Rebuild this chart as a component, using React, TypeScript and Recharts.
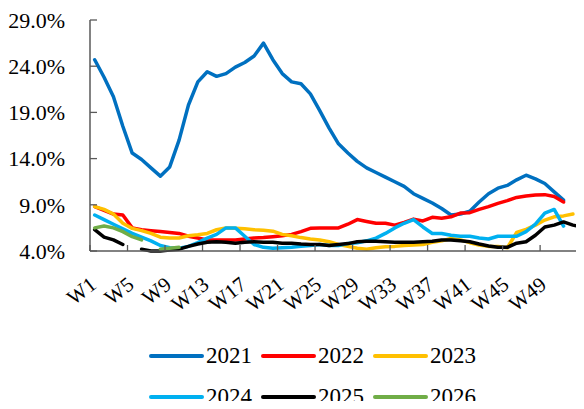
import React from "react";
import { LineChart, Line, XAxis, YAxis, Legend } from "recharts";

// weekly values (%), W1..W53; null = no data
const weeks = Array.from({ length: 53 }, (_, i) => i + 1);

const s2021 = [24.7, 22.8, 20.7, 17.5, 14.6, 13.9, 13.0, 12.1, 13.1, 16.0, 19.8, 22.3, 23.4, 22.9, 23.2, 23.9, 24.4, 25.1, 26.5, 24.7, 23.2, 22.3, 22.1, 21.0, 19.2, 17.3, 15.6, 14.6, 13.7, 13.0, 12.5, 12.0, 11.5, 11.0, 10.2, 9.7, 9.2, 8.6, 7.9, 8.0, 8.3, 9.3, 10.2, 10.8, 11.1, 11.7, 12.2, 11.8, 11.3, 10.4, 9.5];
const s2022 = [8.8, 8.4, 8.0, 7.9, 6.5, 6.3, 6.2, 6.1, 6.0, 5.9, 5.6, 5.4, 5.2, 5.2, 5.2, 5.2, 5.3, 5.4, 5.45, 5.55, 5.65, 5.8, 6.1, 6.45, 6.5, 6.5, 6.5, 6.9, 7.4, 7.2, 7.0, 7.0, 6.8, 7.1, 7.45, 7.25, 7.65, 7.55, 7.7, 8.1, 8.15, 8.5, 8.8, 9.15, 9.45, 9.8, 9.95, 10.05, 10.1, 9.9, 9.3];
const s2023 = [8.8, 8.5, 8.0, 7.0, 6.45, 6.2, 5.9, 5.5, 5.4, 5.4, 5.65, 5.75, 5.9, 6.3, 6.5, 6.45, 6.4, 6.3, 6.25, 6.15, 5.8, 5.65, 5.45, 5.3, 5.2, 5.0, 4.7, 4.5, 4.3, 4.2, 4.35, 4.45, 4.5, 4.6, 4.65, 4.7, 4.95, 5.1, 5.35, 5.2, 4.9, 4.65, 4.5, 4.5, 4.35, 6.0, 6.35, 6.8, 7.35, 7.7, 7.8, 8.0];
const s2024 = [7.9, 7.4, 6.9, 6.4, 5.9, 5.5, 5.1, 4.6, 4.35, 4.3, 4.5, 4.9, 5.4, 5.8, 6.5, 6.5, 5.6, 4.7, 4.4, 4.3, 4.35, 4.4, 4.5, 4.6, 4.7, 4.6, 4.6, 4.8, 4.9, 5.1, 5.4, 5.9, 6.5, 7.0, 7.4, 6.6, 5.9, 5.9, 5.7, 5.6, 5.6, 5.4, 5.3, 5.6, 5.6, 5.6, 6.1, 6.9, 8.1, 8.5, 6.7];
const s2025 = [6.3, 5.5, 5.2, 4.7, null, 4.2, 4.0, 4.0, 4.1, 4.2, 4.5, 4.75, 4.95, 5.0, 4.95, 4.85, 4.95, 5.0, 4.95, 4.95, 4.85, 4.85, 4.75, 4.7, 4.7, 4.6, 4.7, 4.8, 5.0, 5.05, 5.05, 5.0, 4.95, 4.95, 4.95, 5.0, 5.05, 5.2, 5.2, 5.1, 5.0, 4.75, 4.55, 4.4, 4.4, 4.85, 5.0, 5.7, 6.6, 6.8, 7.15, 6.8, 6.6];
const s2026 = [6.5, 6.7, 6.5, 6.1, 5.55, 5.2, null, 4.2, 4.3, 4.4];

const series = [
  { key: "2021", values: s2021, color: "#0070C0" },
  { key: "2022", values: s2022, color: "#FF0000" },
  { key: "2023", values: s2023, color: "#FFC000" },
  { key: "2024", values: s2024, color: "#00B0F0" },
  { key: "2025", values: s2025, color: "#000000" },
  { key: "2026", values: s2026, color: "#70AD47" },
];

const yTicks = [4, 9, 14, 19, 24, 29];
// tick marks sit between categories, labels every 4 weeks
const xTickMarks = Array.from({ length: 14 }, (_, i) => i * 4 + 0.5);
const lastLabelWeek = 49;

const data = weeks.map((w, i) => {
  const row: Record<string, number | null> = { week: w };
  series.forEach((s) => {
    const v = s.values[i];
    row[s.key] = v === undefined ? null : v;
  });
  return row;
});

const FONT = '"Liberation Serif", "Times New Roman", serif';
const AXIS = "#595959";

const W = 600;
const H = 409;
const M = { top: 20, right: 13, left: 0, bottom: 0 };
const Y_W = 90;
const HALF = (W - M.left - M.right - Y_W) / weeks.length / 2;

const XTick = (props: any) => {
  const { x, y, payload } = props;
  const wk = payload.value + 0.5;
  return (
    <g>
      <line x1={x} y1={y} x2={x} y2={y - 6} stroke={AXIS} strokeWidth={1.3} />
      {wk <= lastLabelWeek && (
        <text
          transform={`translate(${x + HALF + 3},${y + 36}) rotate(-38)`}
          textAnchor="end"
          fontFamily={FONT}
          fontSize={21}
          fill="#000"
        >
          {"W" + wk}
        </text>
      )}
    </g>
  );
};

const YTick = (props: any) => {
  const { x, y, payload } = props;
  return (
    <g>
      <line x1={x} y1={y} x2={x + 7} y2={y} stroke={AXIS} strokeWidth={1.3} />
      <text x={x - 25} y={y} dy="0.35em" textAnchor="end" fontFamily={FONT} fontSize={22} fill="#000">
        {payload.value.toFixed(1) + "%"}
      </text>
    </g>
  );
};

const LegendBox = () => (
  <div
    style={{
      height: 88,
      paddingLeft: 149,
      paddingTop: 14,
      display: "grid",
      gridTemplateColumns: "112px 112px 112px",
      gridAutoRows: "41px",
      boxSizing: "border-box",
      fontFamily: FONT,
      fontSize: 23,
    }}
  >
    {series.map((s) => (
      <div key={s.key} style={{ display: "flex", alignItems: "center" }}>
        <svg width={57} height={8}>
          <line x1={2} y1={4} x2={53} y2={4} stroke={s.color} strokeWidth={4} strokeLinecap="round" />
        </svg>
        <span style={{ color: "#000", lineHeight: "22px" }}>{s.key}</span>
      </div>
    ))}
  </div>
);

export default function App() {
  return (
    <div style={{ margin: -8, width: 584, height: 409, overflow: "hidden", background: "#fff" }}>
      <LineChart width={W} height={H} data={data} margin={M}>
        <XAxis
          dataKey="week"
          type="number"
          domain={[0.5, 53.5]}
          ticks={xTickMarks}
          interval={0}
          tick={<XTick />}
          tickLine={false}
          tickSize={0}
          tickMargin={0}
          axisLine={{ stroke: AXIS, strokeWidth: 1.3 }}
          height={70}
        />
        <YAxis
          type="number"
          domain={[4, 29]}
          ticks={yTicks}
          interval={0}
          tick={<YTick />}
          tickLine={false}
          tickSize={0}
          tickMargin={0}
          axisLine={{ stroke: "#404040", strokeWidth: 1.3 }}
          width={Y_W}
        />
        <Legend verticalAlign="bottom" wrapperStyle={{ left: 0, width: W }} content={() => <LegendBox />} />
        {series.map((s) => (
          <Line
            key={s.key}
            dataKey={s.key}
            stroke={s.color}
            strokeWidth={3.5}
            strokeLinecap="round"
            strokeLinejoin="round"
            dot={false}
            activeDot={false}
            connectNulls={false}
            isAnimationActive={false}
          />
        ))}
      </LineChart>
    </div>
  );
}
